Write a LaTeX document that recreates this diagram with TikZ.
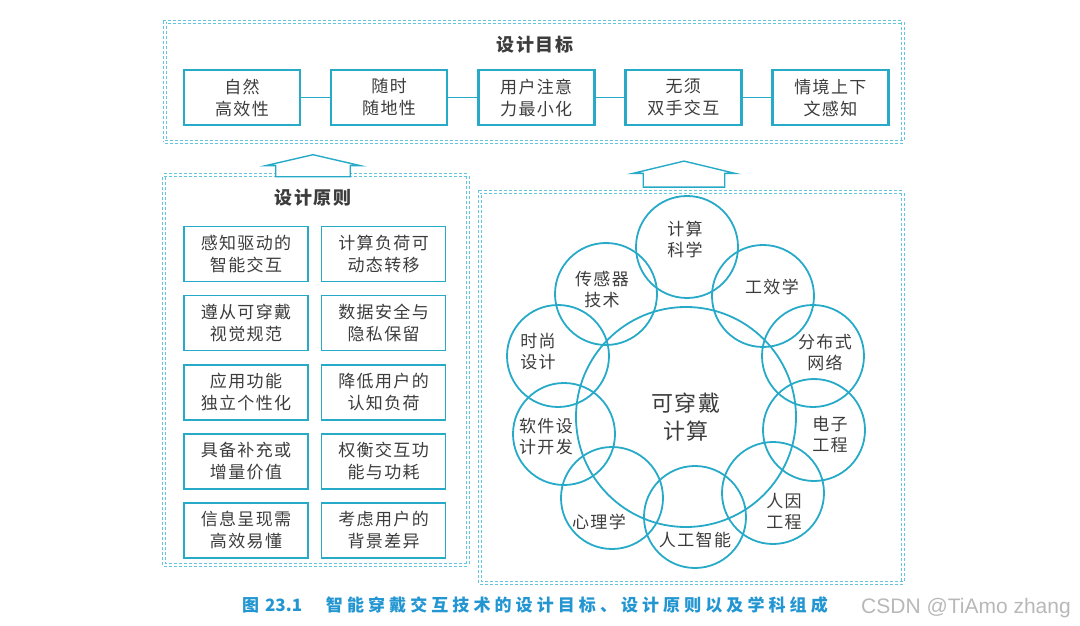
\documentclass[tikz,border=0pt]{standalone}
\usepackage{fontspec}
\setsansfont[LetterSpace=8]{Noto Sans CJK SC}
\newfontfamily\capfont[LetterSpace=24]{Noto Sans CJK SC}
\newfontfamily\numfont{Noto Sans CJK SC}
\newfontfamily\markfont{Liberation Sans}
\usetikzlibrary{shapes.arrows, positioning}
\definecolor{boxCyan}{RGB}{38,170,200}
\definecolor{frameCyan}{RGB}{100,198,222}
\definecolor{textGray}{RGB}{60,60,60}
\definecolor{capBlue}{RGB}{35,150,210}
\tikzset{
    font=\sffamily,
    % Frames
    group/.style={rectangle, draw=frameCyan, densely dashed, double, double distance=1.6pt, line width=0.9pt, inner sep=0pt},
    title/.style={font=\sffamily\bfseries\fontsize{18}{22}\selectfont, text=textGray},
    % Shapes
    goal/.style={rectangle, draw=boxCyan, line width=2.6pt, minimum width=116pt, minimum height=55pt,
                 align=center, inner sep=2pt, text=textGray, font=\sffamily\fontsize{17}{22}\selectfont},
    rule/.style={goal, line width=1.6pt, minimum width=124pt},
    disc/.style={circle, draw=boxCyan, line width=1.8pt, minimum size=102pt, inner sep=0pt},
    hub/.style={disc, minimum size=220pt, align=center, text=textGray, font=\sffamily\fontsize{22}{28}\selectfont},
    uparrow/.style={single arrow, draw=boxCyan, line width=1.4pt, fill=white, rotate=90, inner sep=0pt, text depth=0pt},
    % Flow & Labels
    link/.style={draw=boxCyan, line width=1.2pt},
    lbl/.style={align=center, text=textGray, font=\sffamily\fontsize{17}{21}\selectfont}
}

\begin{document}
\begin{tikzpicture}[x=1pt, y=1pt]
\useasboundingbox (0,0) rectangle (1080,625);

% frames
\node[group, minimum width=738pt, minimum height=120pt] (goals) at (534,543) {};
\node[group, minimum width=304pt, minimum height=390pt] (principles) at (316,255) {};
\node[group, minimum width=423pt, minimum height=391pt] (fields) at (691.5,237.5) {};

\node[title] (goalTitle) at (535,580) {设计目标};
\node[title] (ruleTitle) at (313,427) {设计原则};

% design goals
\node[goal] (g1) at (242,527.5) {自然\\高效性};
\node[goal, right=28.5pt of g1] (g2) {随时\\随地性};
\node[goal, right=28.5pt of g2] (g3) {用户注意\\力最小化};
\node[goal, right=28.5pt of g3] (g4) {无须\\双手交互};
\node[goal, right=28.5pt of g4] (g5) {情境上下\\文感知};

\foreach \a/\b in {g1/g2, g2/g3, g3/g4, g4/g5}
    \draw[link] (\a) -- (\b);

% design principles
\node[rule] (p1) at (246,371) {感知驱动的\\智能交互};
\node[rule, right=12pt of p1] (p2) {计算负荷可\\动态转移};
\node[rule, below=12.5pt of p1] (p3) {遵从可穿戴\\视觉规范};
\node[rule, right=12pt of p3] (p4) {数据安全与\\隐私保留};
\node[rule, below=12.5pt of p3] (p5) {应用功能\\独立个性化};
\node[rule, right=12pt of p5] (p6) {降低用户的\\认知负荷};
\node[rule, below=12.5pt of p5] (p7) {具备补充或\\增量价值};
\node[rule, right=12pt of p7] (p8) {权衡交互功\\能与功耗};
\node[rule, below=12.5pt of p7] (p9) {信息呈现需\\高效易懂};
\node[rule, right=12pt of p9] (p10) {考虑用户的\\背景差异};

% disciplines
\node[hub] (wear) at (686,208) {可穿戴\\计算};
\node[disc, label={[lbl, shift={(-2pt,8pt)}]center:计算\\科学}] (comp) at (687,378) {};
\node[disc, label={[lbl, shift={(9pt,9pt)}]center:工效学}] (ergo) at (763,329) {};
\node[disc, label={[lbl, shift={(12pt,3pt)}]center:分布式\\网络}] (net) at (813,269) {};
\node[disc, label={[lbl, shift={(16pt,-5pt)}]center:电子\\工程}] (elec) at (814,195) {};
\node[disc, label={[lbl, shift={(11pt,-19pt)}]center:人因\\工程}] (human) at (773,132) {};
\node[disc, label={[lbl, shift={(0pt,-23pt)}]center:人工智能}] (ai) at (695,108) {};
\node[disc, label={[lbl, shift={(-13pt,-24pt)}]center:心理学}] (psych) at (612,127) {};
\node[disc, label={[lbl, shift={(-18pt,-3pt)}]center:软件设\\计开发}] (soft) at (564,191) {};
\node[disc, label={[lbl, shift={(-20pt,4pt)}]center:时尚\\设计}] (fashion) at (558,269) {};
\node[disc, label={[lbl, shift={(-4pt,4pt)}]center:传感器\\技术}] (sensor) at (606,331) {};

% arrows up to the goals
\node[uparrow, text height=50pt, minimum height=22pt, minimum width=95pt,
      single arrow tip angle=154] (upL) at (313,455) {};
\node[uparrow, text height=55pt, minimum height=26pt, minimum width=102pt,
      single arrow tip angle=153] (upR) at (684,446) {};

% caption
\node[font=\capfont\bfseries\fontsize{17}{20}\selectfont, text=capBlue] (caption) at (535,20)
    {{\numfont\bfseries 图\hspace{0.35em}23.1}\hspace{1.4em}智能穿戴交互技术的设计目标、设计原则以及学科组成};
\node[font=\markfont\fontsize{21}{24}\selectfont, text=black!28] (mark) at (966,17) {CSDN @TiAmo zhang};

\end{tikzpicture}
\end{document}
